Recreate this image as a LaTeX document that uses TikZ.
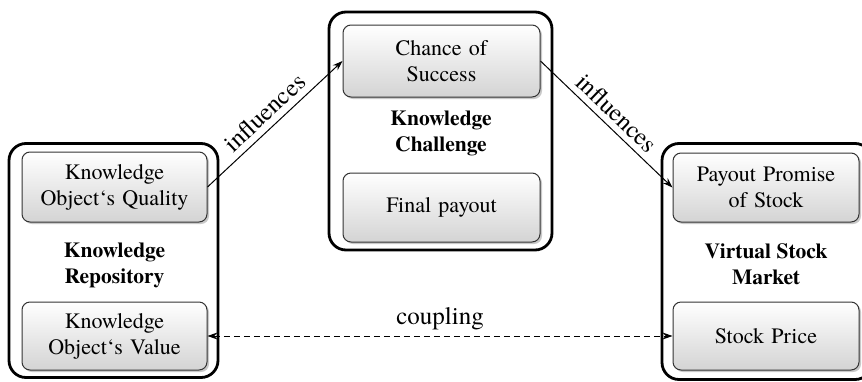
\documentclass[tikz,border=0pt]{standalone}
\usepackage{fontspec}
\IfFontExistsTF{texgyretermes-regular.otf}
  {\setmainfont{texgyretermes-regular.otf}[BoldFont=texgyretermes-bold.otf,ItalicFont=texgyretermes-italic.otf]}
  {\setmainfont{Latin Modern Roman}}
\usetikzlibrary{arrows.meta,shadows}
\newcommand\myinnerfont{\fontsize{22}{26}\selectfont\spaceskip=0.33em\relax}
\begin{document}
\begin{tikzpicture}[x=1pt,y=-1pt,
  outerbox/.style={draw=black,line width=2.8pt,rounded corners=17pt,inner sep=0pt,fill=white},
  innerbox/.style={draw=black!80,line width=1pt,rounded corners=8pt,inner sep=0pt,
    top color=white,bottom color=black!17,align=center,
    drop shadow={shadow xshift=2pt,shadow yshift=-2pt,fill=black!35,opacity=0.6},
    font=\myinnerfont},
  titletext/.style={align=center,font=\fontsize{21.5}{26}\selectfont\bfseries},
  arr/.style={line width=1pt,-{Stealth[length=10pt,width=7pt]}},
  lbl/.style={font=\fontsize{25}{30}\selectfont}]
\useasboundingbox (0,0) rectangle (862,381);
% outer boxes
\node[outerbox,minimum width=209pt,minimum height=234pt] (kr) at (113.5,260.5) {};
\node[outerbox,minimum width=223pt,minimum height=238pt] (kc) at (440.5,131) {};
\node[outerbox,minimum width=210pt,minimum height=236pt] (vsm) at (767,261.5) {};
% inner boxes
\node[innerbox,minimum width=185pt,minimum height=70pt] (quality) at (114.5,187) {Knowledge\\Object‘s Quality};
\node[innerbox,minimum width=185pt,minimum height=68pt] (value) at (114.5,336) {Knowledge\\Object‘s Value};
\node[innerbox,minimum width=197pt,minimum height=72pt] (chance) at (441.5,61) {Chance of\\Success};
\node[innerbox,minimum width=197pt,minimum height=69pt] (final) at (441.5,207.5) {Final payout};
\node[innerbox,minimum width=186pt,minimum height=69pt] (payout) at (766,187.5) {Payout Promise\\of Stock};
\node[innerbox,minimum width=186pt,minimum height=68pt] (price) at (766,336) {Stock Price};
% titles
\node[titletext] (krt) at (114.5,265) {Knowledge\\Repository};
\node[titletext] (kct) at (441,133) {Knowledge\\Challenge};
\node[titletext] (vsmt) at (766,264) {Virtual Stock\\Market};
% connectors
\draw[arr] (quality.east) -- (chance.west) node[midway,above=3pt,sloped,lbl] {influences};
\draw[arr] (chance.east) -- (payout.west) node[midway,above=3pt,sloped,lbl] {influences};
\draw[line width=1pt,dashed,dash pattern=on 6pt off 4pt,{Stealth[length=10pt,width=7pt]}-{Stealth[length=10pt,width=7pt]}] (value.east) -- (price.west) node[midway,above=2pt,lbl] {coupling};
\end{tikzpicture}
\end{document}
